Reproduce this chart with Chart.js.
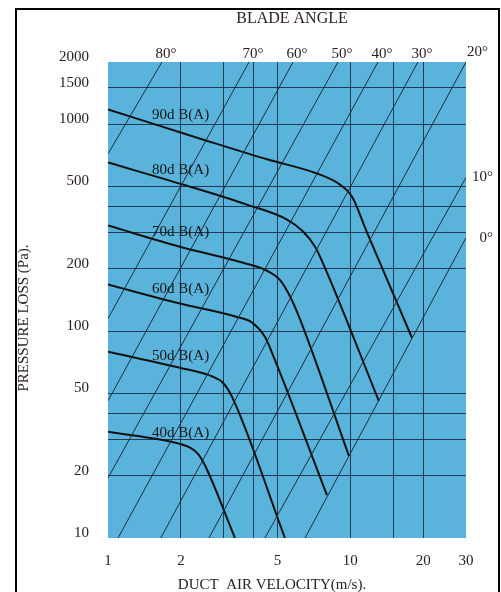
<!DOCTYPE html>
<html>
<head>
<meta charset="utf-8">
<script src="https://cdn.jsdelivr.net/npm/chart.js@4/dist/chart.umd.min.js"></script>
<style>
  html, body { margin: 0; padding: 0; background: #fff; }
  canvas { display: block; }
</style>
</head>
<body>
<canvas id="chart" width="501" height="592"></canvas>
<script>
// Axes
const xGridValues = [1, 2, 3, 4, 5, 10, 15, 20, 30];
const xLabelValues = [1, 2, 5, 10, 20, 30];
const yGridValues = [10, 20, 30, 40, 50, 100, 200, 300, 400, 500, 1000, 1500, 2000];
const yLabelValues = [10, 20, 50, 100, 200, 500, 1000, 1500, 2000];

// Courbes de bruit (vitesse m/s, perte de charge Pa)
const velocity90 = [1, 2.61, 4.57, 7.28, 9.06, 10.15, 11.71, 17.95];
const pressure90 = [1180, 826, 675, 578, 511, 447, 300, 92.9];
const velocity80 = [1, 2.04, 3.74, 5.48, 6.38, 7.15, 8.01, 13.1];
const pressure80 = [653, 511, 409, 346, 303, 256, 192, 46];
const velocity70 = [1, 1.98, 3.61, 4.44, 5.12, 5.64, 6.2, 9.87];
const pressure70 = [324, 256, 214, 198, 177, 147, 114, 24.9];
const velocity60 = [1, 1.98, 3.41, 3.93, 4.44, 4.75, 8.01];
const pressure60 = [168, 136, 117, 110, 93.9, 78.6, 16.1];
const velocity50 = [1, 1.98, 2.71, 2.98, 3.25, 5.37];
const pressure50 = [79.5, 66.5, 60.2, 56.3, 48.1, 10];
const velocity40 = [1, 1.98, 2.2, 2.36, 2.52, 3.34];
const pressure40 = [32.6, 28.5, 27.2, 25.4, 22.3, 10];

const curveNames = ["90d B(A)", "80d B(A)", "70d B(A)", "60d B(A)", "50d B(A)", "40d B(A)"];
const curveVelocities = [velocity90, velocity80, velocity70, velocity60, velocity50, velocity40];
const curvePressures = [pressure90, pressure80, pressure70, pressure60, pressure50, pressure40];
const labelVelocity = 1.52;
const labelPressures = [1114, 604, 300, 160, 76, 32.2];

// Angles des lames : [vitesse début, vitesse fin], [pression début, pression fin]
const bladeAngles = ["80°", "70°", "60°", "50°", "40°", "30°", "20°", "10°", "0°"];
const bladeVelocities = [[1, 1.67], [1, 3.82], [1, 5.8], [1, 8.89], [1.1, 13.0], [1.65, 19.0], [2.61, 30], [4.44, 30], [6.5, 30]];
const bladePressures = [[720, 2000], [115, 2000], [46, 2000], [19.5, 2000], [10, 2000], [10, 2000], [10, 2000], [10, 553], [10, 283]];

const FONT = "'Liberation Serif', 'Times New Roman', serif";
const TEXT = "#2a2020";
const GRID = "rgba(22, 38, 58, 0.85)";

function pairs(vs, ps) {
  return vs.map((v, i) => ({ x: v, y: ps[i] }));
}

const datasets = [];
bladeAngles.forEach((a, i) => {
  datasets.push({
    label: a,
    data: pairs(bladeVelocities[i], bladePressures[i]),
    borderColor: "#1c2c3c",
    borderWidth: 1,
    pointRadius: 0,
    tension: 0
  });
});
curveNames.forEach((n, i) => {
  datasets.push({
    label: n,
    data: pairs(curveVelocities[i], curvePressures[i]),
    borderColor: "#111",
    borderWidth: 2,
    pointRadius: 0,
    cubicInterpolationMode: "monotone"
  });
});

// Fond bleu, textes et cadre
const decor = {
  id: "decor",
  beforeDraw(chart) {
    const { ctx, chartArea: a } = chart;
    ctx.save();
    ctx.fillStyle = "#5ab3db";
    ctx.fillRect(a.left, a.top, a.right - a.left, a.bottom - a.top);
    ctx.restore();
  },
  afterDraw(chart) {
    const { ctx, chartArea: a } = chart;
    const xs = chart.scales.x, ys = chart.scales.y;
    ctx.save();
    ctx.fillStyle = TEXT;
    ctx.textBaseline = "middle";

    ctx.font = "16px " + FONT;
    ctx.textAlign = "center";
    ctx.fillText("BLADE ANGLE", 292, 19);

    // angles
    ctx.font = "15px " + FONT;
    bladeAngles.forEach((a2, i) => {
      const v = bladeVelocities[i][1], p = bladePressures[i][1];
      const px = xs.getPixelForValue(v), py = ys.getPixelForValue(p);
      if (v >= xs.max && p >= ys.max) {
        ctx.textAlign = "left";
        ctx.fillText(a2, a.right + 1, a.top - 10);
      } else if (v >= xs.max) {
        ctx.textAlign = "right";
        ctx.fillText(a2, a.right + 27, py);
      } else {
        ctx.textAlign = "center";
        ctx.fillText(a2, px + 4, a.top - 8);
      }
    });

    // dB labels
    ctx.textAlign = "left";
    ctx.fillStyle = "#151515";
    curveNames.forEach((n, i) => {
      ctx.fillText(n, xs.getPixelForValue(labelVelocity), ys.getPixelForValue(labelPressures[i]));
    });

    // axis titles
    ctx.fillStyle = TEXT;
    ctx.textAlign = "center";
    ctx.fillText("DUCT  AIR VELOCITY(m/s).", 272, 585);
    ctx.translate(24, 318);
    ctx.rotate(-Math.PI / 2);
    ctx.fillText("PRESSURE LOSS (Pa).", 0, 0);
    ctx.restore();

    // cadre
    ctx.save();
    ctx.strokeStyle = "#000";
    ctx.lineWidth = 2;
    ctx.strokeRect(16, 9, 483, 600);
    ctx.restore();
  }
};

new Chart(document.getElementById("chart"), {
  type: "line",
  data: { datasets },
  options: {
    responsive: false,
    animation: false,
    layout: { padding: { top: 62, right: 35, left: 0, bottom: 0 } },
    plugins: { legend: { display: false }, tooltip: { enabled: false } },
    scales: {
      x: {
        type: "logarithmic",
        min: 1,
        max: 30,
        afterBuildTicks: s => { s.ticks = xGridValues.map(v => ({ value: v })); },
        afterFit: s => { s.height = 54; },
        border: { display: false },
        grid: {
          drawTicks: false,
          lineWidth: 1,
          color: c => (c.tick && (c.tick.value <= 1 || c.tick.value >= 30)) ? "rgba(0,0,0,0)" : GRID
        },
        ticks: {
          autoSkip: false,
          maxRotation: 0,
          padding: 14,
          color: TEXT,
          font: { family: FONT, size: 15 },
          callback: v => xLabelValues.includes(v) ? String(v) : ""
        }
      },
      y: {
        type: "logarithmic",
        min: 10,
        max: 2000,
        afterBuildTicks: s => { s.ticks = yGridValues.map(v => ({ value: v })); },
        afterFit: s => { s.width = 108; },
        border: { display: false },
        grid: {
          drawTicks: false,
          lineWidth: 1,
          color: c => (c.tick && (c.tick.value <= 10 || c.tick.value >= 2000)) ? "rgba(0,0,0,0)" : GRID
        },
        ticks: {
          autoSkip: false,
          padding: 19,
          labelOffset: -5,
          color: TEXT,
          font: { family: FONT, size: 15 },
          callback: v => yLabelValues.includes(v) ? String(v) : ""
        }
      }
    }
  },
  plugins: [decor]
});
</script>
</body>
</html>
